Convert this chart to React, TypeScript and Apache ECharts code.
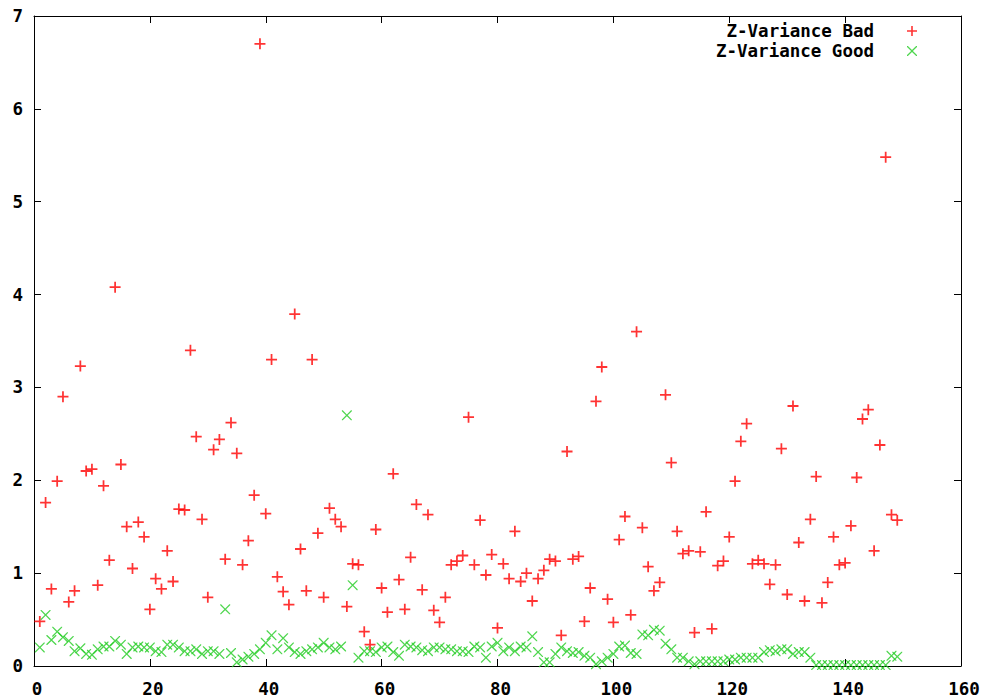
import React, { useEffect, useRef } from "react";
import * as echarts from "echarts";

const seriesNames = ["Z-Variance Bad", "Z-Variance Good"];

const xTicks = { min: 0, max: 160, step: 20 };
const yTicks = { min: 0, max: 7, step: 1 };

// index 1..149
const badValues = [
  0.48, 1.76, 0.83, 1.99, 2.9, 0.69, 0.81, 3.23, 2.1, 2.12,
  0.87, 1.94, 1.14, 4.08, 2.17, 1.5, 1.05, 1.55, 1.39, 0.61,
  0.94, 0.83, 1.24, 0.91, 1.69, 1.68, 3.4, 2.47, 1.58, 0.74,
  2.33, 2.44, 1.15, 2.62, 2.29, 1.09, 1.35, 1.84, 6.7, 1.64,
  3.3, 0.96, 0.8, 0.66, 3.79, 1.26, 0.81, 3.3, 1.43, 0.74,
  1.7, 1.58, 1.5, 0.64, 1.1, 1.09, 0.37, 0.23, 1.47, 0.84,
  0.58, 2.07, 0.93, 0.61, 1.17, 1.74, 0.82, 1.63, 0.6, 0.47,
  0.74, 1.09, 1.13, 1.19, 2.68, 1.09, 1.57, 0.98, 1.2, 0.41,
  1.1, 0.94, 1.45, 0.91, 1.0, 0.7, 0.94, 1.03, 1.15, 1.13,
  0.33, 2.31, 1.15, 1.18, 0.48, 0.84, 2.85, 3.22, 0.72, 0.47,
  1.36, 1.61, 0.55, 3.6, 1.49, 1.07, 0.81, 0.9, 2.92, 2.19,
  1.45, 1.21, 1.24, 0.36, 1.23, 1.66, 0.4, 1.08, 1.13, 1.39,
  1.99, 2.42, 2.61, 1.1, 1.14, 1.1, 0.88, 1.09, 2.34, 0.77,
  2.8, 1.33, 0.7, 1.58, 2.04, 0.68, 0.9, 1.39, 1.09, 1.11,
  1.51, 2.03, 2.66, 2.76, 1.24, 2.38, 5.48, 1.63, 1.57,
];

const goodValues = [
  0.2, 0.55, 0.28, 0.37, 0.31, 0.27, 0.16, 0.19, 0.13, 0.12,
  0.18, 0.21, 0.21, 0.27, 0.23, 0.13, 0.2, 0.21, 0.2, 0.2,
  0.16, 0.15, 0.23, 0.23, 0.2, 0.16, 0.16, 0.18, 0.13, 0.16,
  0.16, 0.13, 0.61, 0.14, 0.04, 0.07, 0.1, 0.13, 0.18, 0.25,
  0.33, 0.18, 0.3, 0.2, 0.15, 0.13, 0.16, 0.18, 0.2, 0.25,
  0.2, 0.18, 0.21, 2.7, 0.87, 0.09, 0.16, 0.16, 0.15, 0.2,
  0.21, 0.15, 0.11, 0.23, 0.21, 0.2, 0.17, 0.16, 0.2, 0.2,
  0.18, 0.18, 0.16, 0.16, 0.15, 0.21, 0.2, 0.09, 0.21, 0.25,
  0.16, 0.2, 0.16, 0.21, 0.2, 0.32, 0.15, 0.04, 0.04, 0.13,
  0.2, 0.16, 0.14, 0.15, 0.11, 0.09, 0.02, 0.05, 0.09, 0.13,
  0.21, 0.22, 0.14, 0.13, 0.34, 0.33, 0.39, 0.38, 0.24, 0.18,
  0.09, 0.09, 0.05, 0.02, 0.05, 0.05, 0.05, 0.05, 0.05, 0.07,
  0.07, 0.09, 0.09, 0.09, 0.09, 0.15, 0.17, 0.16, 0.18, 0.18,
  0.13, 0.15, 0.15, 0.09, 0.01, 0.01, 0.01, 0.01, 0.01, 0.01,
  0.01, 0.01, 0.01, 0.01, 0.01, 0.01, 0.01, 0.11, 0.1,
];

const FONT = "DejaVu Sans Mono";
const PLUS = "path://M4.2,0H5.8V4.2H10V5.8H5.8V10H4.2V5.8H0V4.2H4.2Z";
const CROSS =
  "path://M0,0L0.9,0L5,4.1L9.1,0L10,0L10,0.9L5.9,5L10,9.1L10,10L9.1,10L5,5.9L0.9,10L0,10L0,9.1L4.1,5L0,0.9Z";

export default function App() {
  const ref = useRef<HTMLDivElement>(null);
  useEffect(() => {
    if (!ref.current) return;
    const chart = echarts.init(ref.current, undefined, { renderer: "svg" });
    const lineStyle = { color: "#000", width: 1 };
    const label = {
      fontFamily: FONT,
      fontWeight: "bold" as const,
      fontSize: 17.5,
      color: "#000",
    };
    const xBase = {
      type: "value" as const,
      min: xTicks.min,
      max: xTicks.max,
      interval: xTicks.step,
      splitLine: { show: false },
      axisLine: { show: true, onZero: false, lineStyle },
      axisTick: { show: true, inside: true, length: 7, lineStyle },
    };
    const yBase = {
      type: "value" as const,
      min: yTicks.min,
      max: yTicks.max,
      interval: yTicks.step,
      splitLine: { show: false },
      axisLine: { show: true, onZero: false, lineStyle },
      axisTick: { show: true, inside: true, length: 7, lineStyle },
    };
    chart.setOption({
      animation: false,
      backgroundColor: "#fff",
      grid: { left: 34, right: 25, top: 16, bottom: 31, containLabel: false },
      legend: {
        data: seriesNames,
        orient: "vertical",
        align: "right",
        right: 69,
        top: 21,
        padding: 0,
        itemGap: 0,
        itemWidth: 10,
        itemHeight: 10,
        selectedMode: false,
        textStyle: { ...label, lineHeight: 20, padding: [0, 28, 0, 0] },
      },
      xAxis: [
        {
          ...xBase,
          position: "bottom",
          axisLabel: { ...label, margin: 14, padding: [0, 0, 0, 6] },
        },
        { ...xBase, position: "top", axisLabel: { show: false } },
      ],
      yAxis: [
        { ...yBase, position: "left", axisLabel: { ...label, margin: 11 } },
        { ...yBase, position: "right", axisLabel: { show: false } },
      ],
      series: [
        {
          name: seriesNames[0],
          type: "scatter",
          symbol: PLUS,
          symbolSize: 11,
          itemStyle: { color: "#ff0000" },
          silent: true,
          data: badValues.map((v, i) => [i + 1, v]),
        },
        {
          name: seriesNames[1],
          type: "scatter",
          symbol: CROSS,
          symbolSize: 10,
          itemStyle: { color: "#22cc22" },
          silent: true,
          data: goodValues.map((v, i) => [i + 1, v]),
        },
      ],
    });
    return () => chart.dispose();
  }, []);
  return (
    <div
      ref={ref}
      style={{ position: "fixed", left: 0, top: 0, width: 986, height: 698 }}
    />
  );
}
